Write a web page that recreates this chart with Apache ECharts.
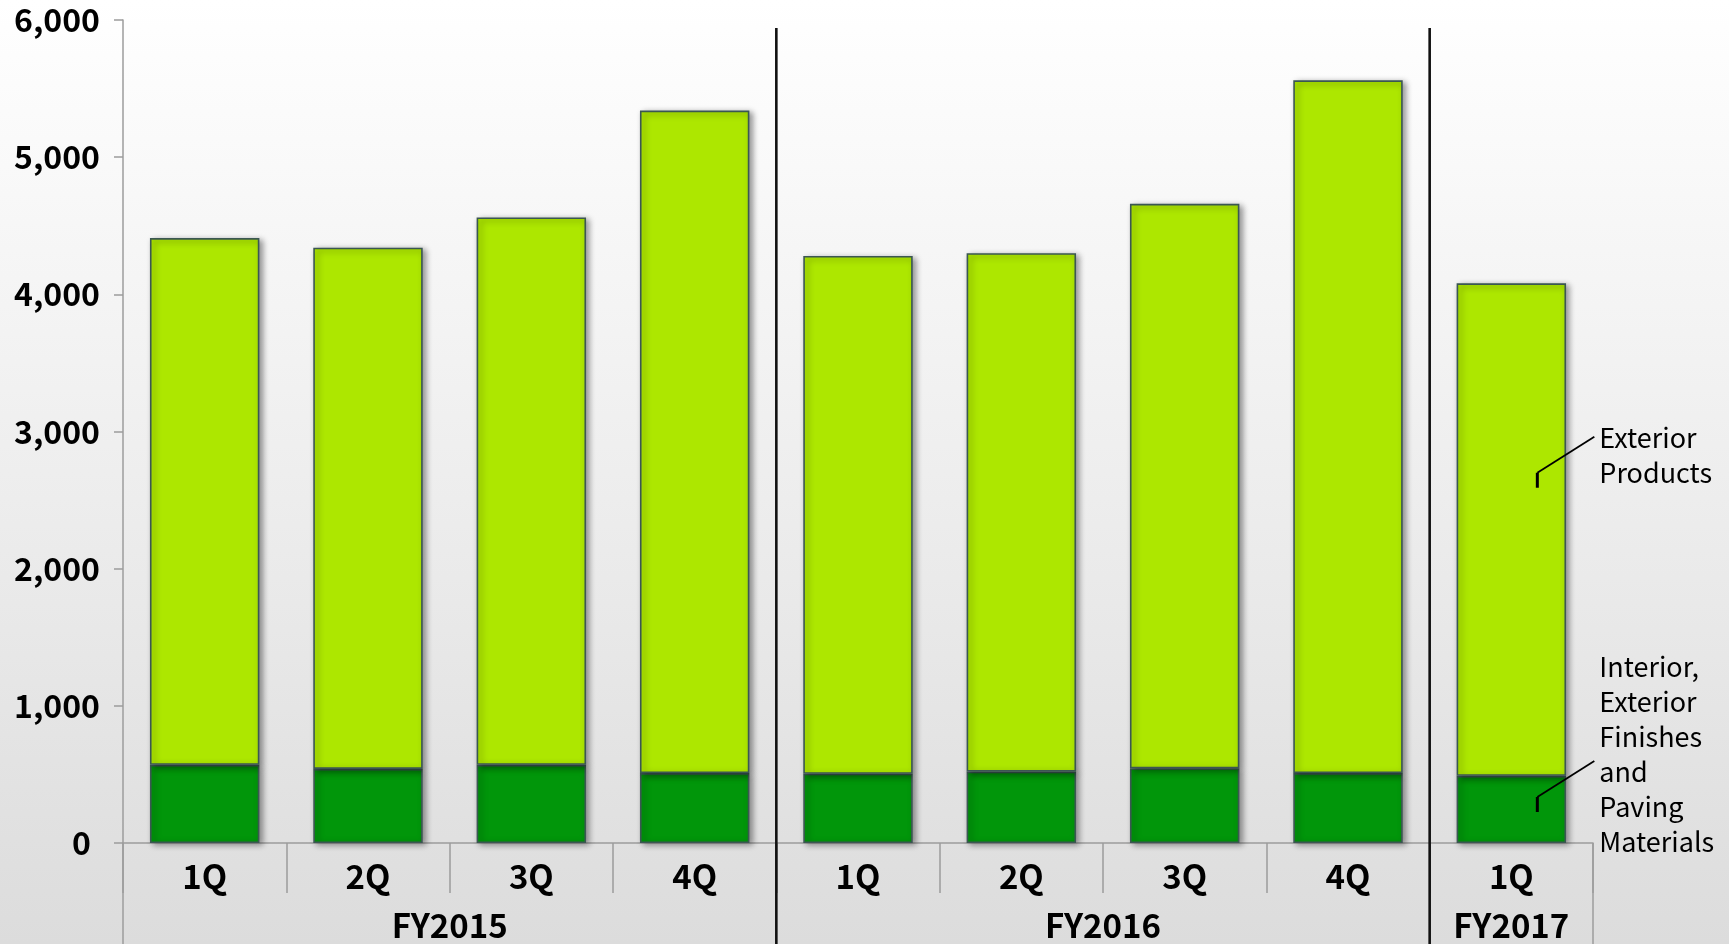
<!DOCTYPE html>
<html>
<head>
<meta charset="utf-8">
<script src="https://cdn.jsdelivr.net/npm/echarts@6/dist/echarts.min.js"></script>
<style>
  html, body { margin: 0; padding: 0; }
  #chart { width: 1729px; height: 944px; }
</style>
</head>
<body>
<div id="chart"></div>
<script>
// Quarterly net sales by product group (stacked)
const quarters = ['1Q', '2Q', '3Q', '4Q', '1Q', '2Q', '3Q', '4Q', '1Q'];
const fiscalYears = ['FY2015', 'FY2016', 'FY2017'];
const quartersPerYear = [4, 4, 1];

const interiorFinishes = [570, 540, 570, 510, 505, 520, 545, 510, 490];
const exteriorProducts = [3840, 3800, 3990, 4830, 3775, 3780, 4115, 5050, 3590];

const yTicks = [0, 1000, 2000, 3000, 4000, 5000, 6000];

const seriesNames = ['Interior, Exterior Finishes and Paving Materials', 'Exterior Products'];
const seriesLabelLines = [
  ['Interior,', 'Exterior', 'Finishes', 'and', 'Paving', 'Materials'],
  ['Exterior', 'Products']
];
// value on the last bar where each callout line starts
const calloutValues = [226, 2590];

// group centres and boundaries along the quarter axis
const yearCentres = [];
const yearBounds = [];
let acc = 0;
quartersPerYear.forEach(function (n, i) {
  yearCentres.push(acc + n / 2);
  acc += n;
  if (i < quartersPerYear.length - 1) yearBounds.push(acc);
});

const FONT = '"Noto Sans CJK JP", "Noto Sans", sans-serif';
const AXIS_GREY = '#9c9c9c';

const chart = echarts.init(document.getElementById('chart'), null, { renderer: 'canvas' });

const barStyle = function (color) {
  return {
    color: color,
    borderColor: '#3b5752',
    borderWidth: 1.6,
    shadowColor: 'rgba(0,0,0,0.4)',
    shadowBlur: 6,
    shadowOffsetX: 3,
    shadowOffsetY: 2
  };
};

chart.setOption({
  backgroundColor: new echarts.graphic.LinearGradient(0, 0, 0, 1, [
    { offset: 0, color: '#ffffff' },
    { offset: 0.5, color: '#eeeeee' },
    { offset: 1, color: '#dcdcdc' }
  ]),
  animation: false,
  grid: { left: 123, right: 136, top: 20, bottom: 101 },
  xAxis: [
    {
      type: 'category',
      data: quarters,
      boundaryGap: true,
      axisLine: { show: true, lineStyle: { color: AXIS_GREY, width: 1.5 } },
      axisTick: { show: true, interval: 0, length: 50, lineStyle: { color: AXIS_GREY, width: 1.5 } },
      axisLabel: {
        interval: 0,
        margin: 17,
        color: '#000',
        fontFamily: FONT,
        fontWeight: 'bold',
        fontSize: 33
      },
      splitLine: { show: false }
    },
    {
      type: 'value',
      min: 0,
      max: quarters.length,
      position: 'bottom',
      axisLine: { show: false },
      axisTick: { show: false },
      splitLine: { show: false },
      axisLabel: {
        customValues: yearCentres,
        margin: 66,
        color: '#000',
        fontFamily: FONT,
        fontWeight: 'bold',
        fontSize: 33,
        formatter: function (v) {
          const i = yearCentres.indexOf(v);
          return i >= 0 ? fiscalYears[i] : '';
        }
      }
    }
  ],
  yAxis: {
    type: 'value',
    min: 0,
    max: 6000,
    interval: 1000,
    axisLine: { show: true, lineStyle: { color: AXIS_GREY, width: 1.5 } },
    axisTick: { show: true, length: 9, lineStyle: { color: AXIS_GREY, width: 1.5 } },
    splitLine: { show: false },
    axisLabel: {
      margin: 23,
      color: '#000',
      fontFamily: FONT,
      fontWeight: 'bold',
      fontSize: 32,
      formatter: function (v) {
        return v === 0 ? '{z|0}' : v.toLocaleString('en-US');
      },
      rich: {
        z: { fontFamily: FONT, fontWeight: 'bold', fontSize: 32, color: '#000', padding: [0, 9, 0, 0] }
      }
    }
  },
  series: [
    {
      name: seriesNames[0],
      type: 'bar',
      stack: 'sales',
      data: interiorFinishes,
      barCategoryGap: '33%',
      itemStyle: barStyle('#01960a')
    },
    {
      name: seriesNames[1],
      type: 'bar',
      stack: 'sales',
      data: exteriorProducts,
      barCategoryGap: '33%',
      itemStyle: barStyle('#ade700')
    }
  ]
});

// fiscal-year dividers, axis extensions and series callouts
function drawOverlay() {
  const H = chart.getHeight();
  const yZero = chart.convertToPixel({ yAxisIndex: 0 }, 0);
  const yTop = chart.convertToPixel({ yAxisIndex: 0 }, yTicks[yTicks.length - 1]);
  const xStart = chart.convertToPixel({ xAxisIndex: 1 }, 0);
  const xEnd = chart.convertToPixel({ xAxisIndex: 1 }, quarters.length);
  const elements = [];

  // axis box edges continue down through the year row
  [xStart, xEnd].forEach(function (x) {
    elements.push({
      type: 'line',
      shape: { x1: x, y1: yZero, x2: x, y2: H },
      style: { stroke: AXIS_GREY, lineWidth: 1.5 },
      z: 10
    });
  });

  yearBounds.forEach(function (b) {
    const x = chart.convertToPixel({ xAxisIndex: 1 }, b);
    elements.push({
      type: 'line',
      shape: { x1: x, y1: yTop + 8, x2: x, y2: H },
      style: { stroke: '#111', lineWidth: 2.6 },
      z: 11
    });
  });

  const lastIdx = quarters.length - 1;
  const cx = chart.convertToPixel({ xAxisIndex: 0 }, lastIdx) + 26;
  const textTopOffsets = [162.5, 67.5];
  calloutValues.forEach(function (val, i) {
    const y = chart.convertToPixel({ yAxisIndex: 0 }, val);
    elements.push({
      type: 'line',
      shape: { x1: cx, y1: y, x2: cx, y2: y - 15 },
      style: { stroke: '#000', lineWidth: 3 },
      z: 12
    });
    elements.push({
      type: 'line',
      shape: { x1: cx, y1: y - 15, x2: cx + 57, y2: y - 51 },
      style: { stroke: '#000', lineWidth: 1.8 },
      z: 12
    });
    elements.push({
      type: 'text',
      x: cx + 62,
      y: y - textTopOffsets[i],
      style: {
        text: seriesLabelLines[i].join('\n'),
        fill: '#000',
        font: '27px ' + FONT,
        lineHeight: 35,
        align: 'left',
        verticalAlign: 'top'
      },
      z: 12
    });
  });

  chart.setOption({ graphic: { elements: elements } });
}
drawOverlay();
</script>
</body>
</html>
